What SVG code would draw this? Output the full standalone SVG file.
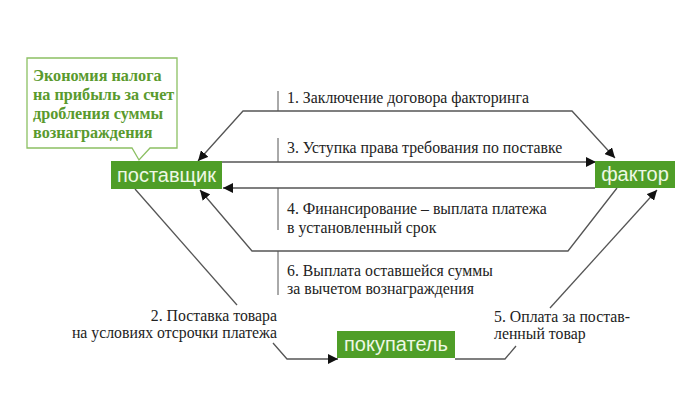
<svg xmlns="http://www.w3.org/2000/svg" width="700" height="420" viewBox="0 0 700 420">
<style>
.bg{fill:#ffffff}
.ln{fill:none;stroke:#555555;stroke-width:1.3}
.tk{fill:none;stroke:#555555;stroke-width:1}
.lbl{font-family:'Liberation Serif','Times New Roman',Times,serif;font-size:15.8px;fill:#222222}
.box{fill:#4f9e28}
.btx{font-family:'Liberation Sans',Arial,sans-serif;font-size:20px;fill:#eef8e4;text-anchor:middle}
.call{fill:#ffffff;stroke:#8cc063;stroke-width:1.3}
.ctx{font-family:'Liberation Serif','Times New Roman',Times,serif;font-size:16.2px;font-weight:bold;fill:#5a9a2e}
</style>
<defs>
<marker id="ah" viewBox="0 0 10 10" refX="10" refY="5" markerWidth="10" markerHeight="10" markerUnits="userSpaceOnUse" orient="auto-start-reverse">
<path d="M0,0 L10,5 L0,10 Z" fill="#111111"/>
</marker>
</defs>
<rect class="bg" x="0" y="0" width="700" height="420"/>
<g id="connectors">
<path class="ln" d="M198,161 L243,111 L572,111 L615,158" marker-start="url(#ah)" marker-end="url(#ah)"/>
<line class="tk" x1="278" y1="91" x2="278" y2="111"/>
<path class="ln" d="M222,162 L596,162" marker-end="url(#ah)"/>
<line class="tk" x1="278" y1="138" x2="278" y2="162"/>
<path class="ln" d="M595,188 L223,188" marker-end="url(#ah)"/>
<line class="tk" x1="278" y1="188" x2="278" y2="230"/>
<path class="ln" d="M617,188 L568,251 L252,251 L200,190" marker-end="url(#ah)"/>
<line class="tk" x1="278" y1="251" x2="278" y2="295"/>
<path class="ln" d="M135,189 L237,305"/>
<path class="ln" d="M273,343 L287,359 L338,359" marker-end="url(#ah)"/>
<path class="ln" d="M455,359 L505,359 L516,346"/>
<path class="ln" d="M550,308 L657,190" marker-end="url(#ah)"/>
<text class="lbl" x="287" y="103" font-family="Liberation Serif, serif">1. Заключение договора факторинга</text>
<text class="lbl" x="287" y="153" font-family="Liberation Serif, serif">3. Уступка права требования по поставке</text>
<text class="lbl" x="287" y="214" font-family="Liberation Serif, serif">4. Финансирование – выплата платежа</text>
<text class="lbl" x="287" y="233" font-family="Liberation Serif, serif">в установленный срок</text>
<text class="lbl" x="287" y="276" font-family="Liberation Serif, serif">6. Выплата оставшейся суммы</text>
<text class="lbl" x="287" y="294" font-family="Liberation Serif, serif">за вычетом вознаграждения</text>
<text class="lbl" x="277" y="321" text-anchor="end" font-family="Liberation Serif, serif">2. Поставка товара</text>
<text class="lbl" x="277" y="338" text-anchor="end" font-family="Liberation Serif, serif">на условиях отсрочки платежа</text>
<text class="lbl" x="494" y="322" font-family="Liberation Serif, serif">5. Оплата за постав-</text>
<text class="lbl" x="494" y="339" font-family="Liberation Serif, serif">ленный товар</text>
</g>
<g id="callout">
<path class="call" d="M27,58 L177,58 L177,148 L150,148 L139,160 L132,148 L27,148 Z"/>
<text class="ctx" x="33" y="81">Экономия налога</text>
<text class="ctx" x="33" y="100">на прибыль за счет</text>
<text class="ctx" x="33" y="119">дробления суммы</text>
<text class="ctx" x="33" y="138">вознаграждения</text>
</g>
<g id="supplier">
<rect class="box" x="111" y="161" width="111" height="28"/>
<text class="btx" x="166.5" y="182">поставщик</text>
</g>
<g id="factor">
<rect class="box" x="595" y="161" width="80" height="27"/>
<text class="btx" x="635" y="181">фактор</text>
</g>
<g id="buyer">
<rect class="box" x="337" y="331" width="118" height="27"/>
<text class="btx" x="396" y="351">покупатель</text>
</g>
</svg>
